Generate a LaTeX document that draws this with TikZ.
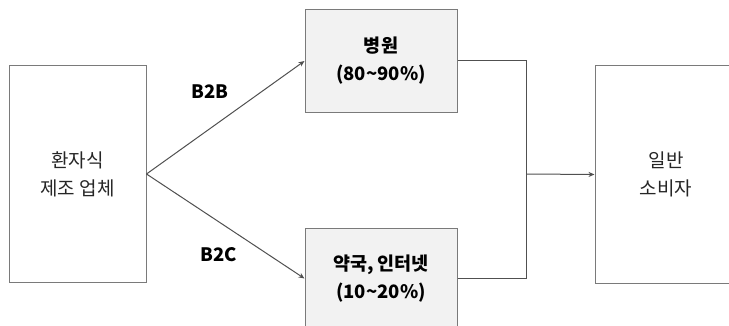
\documentclass[tikz,border=0pt]{standalone}
\usepackage{fontspec}
\setmainfont{Noto Sans CJK KR}
\usepackage{tikz}
\usetikzlibrary{positioning, calc, arrows.meta}

\definecolor{boxline}{HTML}{7A7A7A}
\definecolor{boxfill}{HTML}{F2F2F2}
\definecolor{flowline}{HTML}{505050}

\tikzset{
  partybox/.style={draw=boxline, line width=1pt, align=center, text=black!85,
    minimum width=137pt, minimum height=217pt, inner sep=0pt,
    font=\fontsize{19pt}{28pt}\selectfont},
  channelbox/.style={draw=boxline, fill=boxfill, line width=1pt, align=center,
    minimum width=152pt, minimum height=103pt, inner sep=0pt,
    font=\bfseries\fontsize{18.5pt}{28pt}\selectfont},
  flow/.style={draw=flowline, line width=1pt},
  flowarrow/.style={flow, -{Stealth[length=6pt, width=5pt]}},
  tag/.style={font=\bfseries\fontsize{18.5pt}{20pt}\selectfont}
}

\begin{document}
\begin{tikzpicture}[x=1pt, y=-1pt]
\clip (0,0) rectangle (729,326);
\fill[white] (0,0) rectangle (729,326);

% boxes
\node[partybox] (maker) at (77.5,174) {환자식\\제조 업체};
\node[channelbox] (hospital) at (381,61) {병원\\(80\textasciitilde 90\%)};
\node[channelbox, minimum height=99pt] (pharmacy) at (381,278.5) {약국, 인터넷\\(10\textasciitilde 20\%)};
\node[partybox, minimum width=142pt] (consumer) at (666,174.5) {일반\\소비자};

% sales channels
\draw[flowarrow] (maker.east) -- (hospital.west);
\draw[flowarrow] (maker.east) -- (pharmacy.west);
\node[tag] (b2b) at (210,92) {B2B};
\node[tag] (b2c) at (219,255) {B2C};

% to consumers
\coordinate (join) at (526,174);
\draw[flow] (hospital.east) -| (join);
\draw[flow] (pharmacy.east) -| (join);
\draw[flowarrow] (join) -- (consumer.west);
\end{tikzpicture}
\end{document}
